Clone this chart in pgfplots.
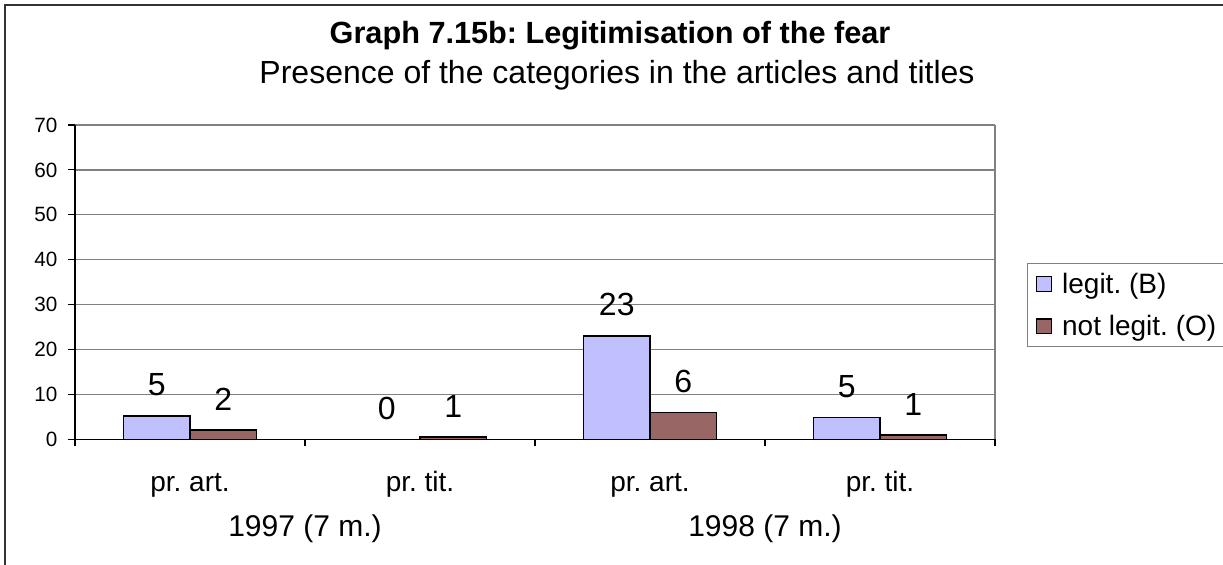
\documentclass[border=0pt]{standalone}
\usepackage{fontspec}
\setmainfont{Liberation Sans}
\usepackage{pgfplots}
\pgfplotsset{compat=1.18}
\definecolor{legitc}{HTML}{C0C0FF}
\definecolor{notc}{HTML}{996666}
\definecolor{gridc}{HTML}{808080}
\frenchspacing
\begin{document}
\begin{tikzpicture}
\path[use as bounding box] (0,0) rectangle (917.25pt,-423pt);
\draw[line width=1.5pt, black!80] (3.75pt,-430pt) -- (3.75pt,-3.75pt) -- (930pt,-3.75pt);
\node[anchor=base, font=\bfseries\fontsize{23}{27}\selectfont] at (457.5pt,-32.775pt) {Graph 7.15b: Legitimisation of the fear};
\node[anchor=base, font=\fontsize{24}{28}\selectfont] at (462.75pt,-62.25pt) {Presence of the categories in the articles and titles};
\begin{axis}[
  at={(56.25pt,-329.475pt)}, anchor=south west,
  scale only axis, width=690pt, height=235.725pt,
  clip=false,
  xmin=-0.5, xmax=3.5, ymin=0, ymax=70,
  axis x line*=bottom, axis y line*=left,
  axis line style={line width=1pt, black},
  ybar=0pt, bar width=0.289,
  xtick={0,1,2,3},
  xticklabels={pr. art., pr. tit., pr. art., pr. tit.},
  major x tick style={draw=none},
  minor xtick={-0.5,0.5,1.5,2.5,3.5},
  minor x tick style={black, line width=0.8pt},
  minor tick length=5.25pt,
  ytick={0,10,...,70},
  major tick length=5.25pt,
  y tick style={black, line width=0.8pt},
  tick align=outside,
  ymajorgrids, grid style={gridc, line width=0.9pt},
  /pgf/number format/assume math mode=true,
  yticklabel style={font=\fontsize{15.5}{18}\selectfont, anchor=east, xshift=-4.5pt},
  xticklabel style={font=\fontsize{21}{25}\selectfont, anchor=base, yshift=-34pt},
  point meta=explicit symbolic,
  nodes near coords,
  every node near coord/.append style={font=\fontsize{24}{28}\selectfont, anchor=south, inner sep=0pt, yshift=14.25pt, text=black},
  legend style={at={(axis description cs:1.0348,0.561)}, anchor=north west,
    draw=gridc, line width=0.9pt, fill=white,
    font=\fontsize{21}{25}\selectfont, inner xsep=6pt, inner ysep=5pt,
    row sep=11pt, /tikz/every odd column/.append style={column sep=5.5pt}},
  legend cell align=left,
  legend image code/.code={\draw[#1, draw=black, line width=0.9pt] (0pt,-5.5pt) rectangle (11.5pt,5.5pt);},
]
\addplot[fill=legitc, draw=black, line width=1.2pt] table[meta=label] {
x y label
0 5.2 5
1 0 0
2 23 23
3 4.9 5
};
\addplot[fill=notc, draw=black, line width=1.2pt] table[meta=label] {
x y label
0 2.05 2
1 0.45 1
2 6 6
3 0.9 1
};
\legend{legit. (B), not legit. (O)}
\draw[gridc, line width=0.9pt] (rel axis cs:1,0) -- (rel axis cs:1,1);
\node[anchor=base, font=\fontsize{22.5}{26}\selectfont] at (axis cs:0.5,0) [yshift=-73.05pt] {1997 (7 m.)};
\node[anchor=base, font=\fontsize{22.5}{26}\selectfont] at (axis cs:2.5,0) [yshift=-73.05pt] {1998 (7 m.)};
\end{axis}
\end{tikzpicture}
\end{document}
